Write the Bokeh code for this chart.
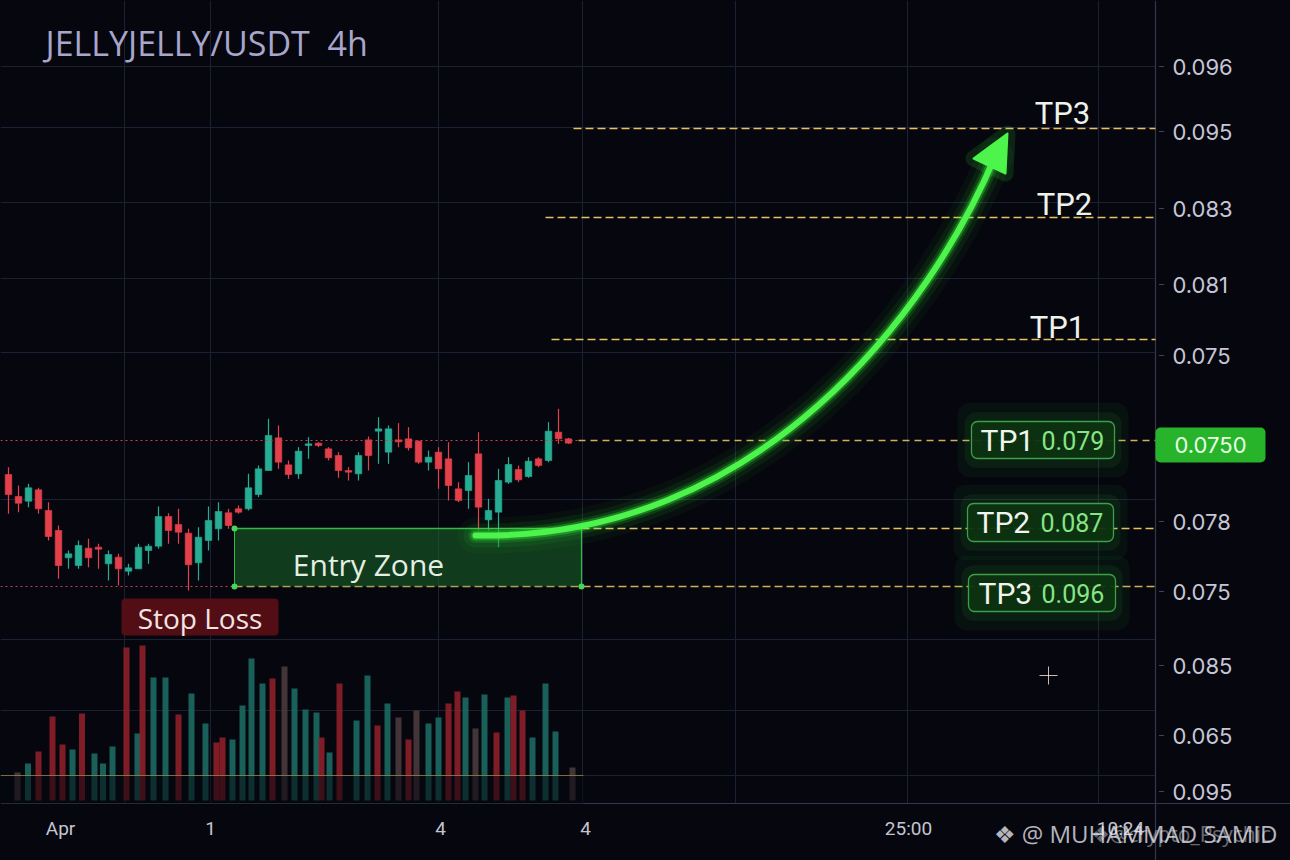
from bokeh.plotting import figure
from bokeh.models import Range1d, ColumnDataSource
from bokeh.core.properties import value
from bokeh.embed import file_html
from bokeh.resources import INLINE

# ---------------- data ----------------
title_text = "JELLYJELLY/USDT \u00a04h"

open_ = [0.07408, 0.07342, 0.07328, 0.07362, 0.07300, 0.07240, 0.07158, 0.07135, 0.07187, 0.07190,
         0.07140, 0.07160, 0.07118, 0.07125, 0.07180, 0.07193, 0.07282, 0.07258, 0.07232, 0.07143,
         0.07210, 0.07245, 0.07293, 0.07305, 0.07305, 0.07348, 0.07420, 0.07518, 0.07437, 0.07410,
         0.07495, 0.07502, 0.07485, 0.07465, 0.07420, 0.07410, 0.07512, 0.07538, 0.07475, 0.07512,
         0.07515, 0.07508, 0.07445, 0.07475, 0.07455, 0.07365, 0.07360, 0.07470, 0.07272, 0.07295,
         0.07385, 0.07423, 0.07402, 0.07455, 0.07450, 0.07535, 0.07515]
high = [0.07430, 0.07375, 0.07380, 0.07368, 0.07325, 0.07255, 0.07180, 0.07210, 0.07215, 0.07200,
        0.07180, 0.07170, 0.07140, 0.07200, 0.07200, 0.07312, 0.07292, 0.07305, 0.07245, 0.07250,
        0.07312, 0.07325, 0.07305, 0.07315, 0.07410, 0.07435, 0.07575, 0.07555, 0.07450, 0.07490,
        0.07520, 0.07505, 0.07490, 0.07475, 0.07430, 0.07475, 0.07522, 0.07580, 0.07555, 0.07562,
        0.07550, 0.07510, 0.07480, 0.07490, 0.07505, 0.07385, 0.07445, 0.07535, 0.07335, 0.07425,
        0.07460, 0.07435, 0.07460, 0.07460, 0.07565, 0.07605, 0.07518]
low = [0.07290, 0.07295, 0.07310, 0.07290, 0.07210, 0.07095, 0.07125, 0.07125, 0.07130, 0.07125,
       0.07090, 0.07075, 0.07105, 0.07125, 0.07140, 0.07185, 0.07200, 0.07200, 0.07060, 0.07090,
       0.07180, 0.07210, 0.07245, 0.07290, 0.07300, 0.07340, 0.07420, 0.07425, 0.07395, 0.07395,
       0.07455, 0.07490, 0.07450, 0.07398, 0.07390, 0.07390, 0.07420, 0.07440, 0.07440, 0.07490,
       0.07480, 0.07440, 0.07420, 0.07365, 0.07330, 0.07325, 0.07305, 0.07240, 0.07240, 0.07190,
       0.07380, 0.07385, 0.07398, 0.07430, 0.07445, 0.07500, 0.07500]
close = [0.07348, 0.07322, 0.07368, 0.07305, 0.07222, 0.07135, 0.07170, 0.07195, 0.07158, 0.07184,
         0.07168, 0.07125, 0.07128, 0.07190, 0.07193, 0.07282, 0.07240, 0.07235, 0.07137, 0.07220,
         0.07270, 0.07297, 0.07255, 0.07295, 0.07368, 0.07425, 0.07525, 0.07445, 0.07408, 0.07478,
         0.07500, 0.07495, 0.07458, 0.07420, 0.07415, 0.07465, 0.07465, 0.07545, 0.07545, 0.07506,
         0.07488, 0.07445, 0.07460, 0.07425, 0.07375, 0.07330, 0.07405, 0.07310, 0.07300, 0.07390,
         0.07438, 0.07392, 0.07448, 0.07435, 0.07538, 0.07515, 0.07502]

vol_pos = [0.9, 1.95, 3.0, 4.4, 5.4, 6.4, 7.35, 8.6, 9.45, 10.4,
           11.8, 12.9, 13.4, 14.5, 15.7, 17.0, 18.3, 19.7, 20.8, 21.4,
           22.4, 23.4, 24.3, 25.4, 26.4, 27.6, 28.6, 29.7, 30.8, 31.3,
           32.1, 33.1, 34.8, 35.9, 36.9, 37.9, 39.0, 40.0, 40.8, 42.0,
           43.0, 44.0, 44.9, 45.7, 46.7, 47.6, 48.8, 49.9, 50.5, 51.4,
           52.4, 53.7, 54.7, 56.4]
volume = [2.8, 3.7, 4.9, 8.4, 5.6, 5.1, 8.7, 4.7, 3.7, 5.4,
          15.3, 6.7, 15.5, 12.3, 12.3, 8.6, 10.7, 7.7, 5.8, 6.3,
          6.1, 9.5, 14.2, 11.7, 12.2, 13.4, 11.2, 9.1, 8.8, 6.3,
          4.8, 11.7, 8.0, 12.5, 7.5, 9.7, 8.3, 6.1, 9.0, 7.7,
          8.3, 9.7, 10.9, 10.3, 7.2, 10.6, 6.8, 10.3, 10.5, 9.0,
          6.3, 11.7, 6.9, 3.3]
vol_side = ["n", "g", "r", "r", "r", "g", "r", "g", "g", "g",
            "r", "g", "r", "g", "g", "r", "g", "g", "r", "r",
            "g", "g", "g", "g", "r", "n", "g", "g", "g", "r",
            "g", "r", "g", "g", "r", "g", "n", "r", "n", "g",
            "g", "r", "r", "g", "n", "g", "r", "g", "r", "r",
            "g", "g", "g", "n"]

y_tick_vals = [0.08632, 0.08437, 0.08206, 0.07978, 0.07765, 0.07267, 0.07057, 0.06835, 0.06625, 0.06457]
y_tick_labels = ["0.096", "0.095", "0.083", "0.081", "0.075", "0.078", "0.075", "0.085", "0.065", "0.095"]
x_tick_vals = [5.2, 20.2, 43.2, 57.7, 90.0, 111.2]
x_tick_labels = ["Apr", "1", "4", "4", "25:00", "10:24"]

grid_x = [11.6, 20.2, 43.0, 57.4, 72.7, 89.9, 109.0]
grid_y = [0.08632, 0.08449, 0.08224, 0.07996, 0.07774, 0.07333, 0.06913, 0.06700, 0.06505]

current_price = 0.0751
current_label = "0.0750"
tp_names = ["TP1", "TP2", "TP3"]
tp_values = ["0.079", "0.087", "0.096"]
tp_upper_levels = [0.07813, 0.08179, 0.08446]      # TP1, TP2, TP3 guide lines
entry_top = 0.07246
stop_loss = 0.07072

# ---------------- layout constants ----------------
X0, X1 = -0.8, 128.2            # full canvas in x
Y0, Y1 = 0.0625, 0.0883         # full canvas in price
X_AXIS = 114.7                  # right price-scale border
Y_AXIS = 0.06421                # time-scale border
Y_LABEL = 0.06346               # row of time labels

BG = "#06070e"
GREEN = "#26ad93"
RED = "#e2404a"
VCOL = {"g": "#1b6a62", "r": "#8e1f29", "n": "#4a3a3d"}
GOLD = "#e6c062"
NEON = "#4cf44c"
AXIS_C = "#33374b"

p = figure(width=1290, height=860, output_backend="svg", toolbar_location=None,
           x_range=Range1d(X0, X1), y_range=Range1d(Y0, Y1),
           x_axis_location=None, y_axis_location=None, min_border=0,
           background_fill_color=BG, border_fill_color=BG, outline_line_color=None)
p.extra_y_ranges = {"vol": Range1d(-6.0, 80.0)}
p.grid.visible = False

# grid lines (chart pane only)
p.segment(x0=grid_x, y0=[Y_AXIS] * len(grid_x), x1=grid_x, y1=[Y1] * len(grid_x),
          line_color="#1c2033", line_width=1)
p.segment(x0=[X0] * len(grid_y), y0=grid_y, x1=[X_AXIS] * len(grid_y), y1=grid_y,
          line_color="#1c2033", line_width=1)

# price scale and time scale
p.segment(x0=[X0, X_AXIS], y0=[Y_AXIS, Y0], x1=[X1, X_AXIS], y1=[Y_AXIS, Y1],
          line_color=AXIS_C, line_width=1.2)
p.segment(x0=[X_AXIS + 0.35] * len(y_tick_vals), y0=y_tick_vals,
          x1=[X_AXIS + 0.85] * len(y_tick_vals), y1=y_tick_vals,
          line_color="#41455a", line_width=1)
p.text(x=[X_AXIS + 1.7] * len(y_tick_vals), y=y_tick_vals, text=y_tick_labels,
       text_align="left", text_baseline="middle", text_font=value("Inter"),
       text_font_size="22px", text_color="#c6c6d6")
p.text(x=x_tick_vals, y=[Y_LABEL] * len(x_tick_vals), text=x_tick_labels,
       text_align="center", text_baseline="middle", text_font=value("Roboto"),
       text_font_size="19px", text_color="#c4c4cf")

# volume
p.vbar(x=vol_pos, width=0.6, bottom=0, top=volume, y_range_name="vol",
       fill_color=[VCOL[s] for s in vol_side], line_color=None, fill_alpha=0.9)
p.quad(left=X0, right=57.5, bottom=-0.3, top=2.5, y_range_name="vol",
       fill_color=BG, fill_alpha=0.55, line_color=None)
p.segment(x0=X0, y0=2.5, x1=57.5, y1=2.5, y_range_name="vol",
          line_color="#b9a45a", line_alpha=0.6, line_width=1)

# candles
idx = list(range(len(open_)))
up = [c >= o for o, c in zip(open_, close)]
csrc = ColumnDataSource(dict(
    x=idx, h=high, l=low,
    top=[max(o, c) for o, c in zip(open_, close)],
    bottom=[min(o, c) for o, c in zip(open_, close)],
    color=[GREEN if u else RED for u in up]))
p.segment(x0="x", y0="h", x1="x", y1="l", line_color="color", line_width=1.2, source=csrc)
p.vbar(x="x", width=0.66, top="top", bottom="bottom", fill_color="color",
       line_color="color", line_width=0.6, source=csrc)

# current price line
p.segment(x0=X0, y0=current_price, x1=57, y1=current_price, line_color="#c9414a",
          line_dash="2 3", line_width=1.2)
p.segment(x0=57, y0=current_price, x1=X_AXIS, y1=current_price, line_color=GOLD,
          line_dash="7 5", line_width=1.5, line_alpha=0.9)

# TP guide lines
p.segment(x0=[54.3, 53.7, 56.5], y0=tp_upper_levels, x1=[X_AXIS] * 3, y1=tp_upper_levels,
          line_color=GOLD, line_dash="8 4", line_width=1.5)
p.segment(x0=57.3, y0=entry_top, x1=X_AXIS, y1=entry_top, line_color=GOLD,
          line_dash="8 4", line_width=1.5)
p.segment(x0=X0, y0=stop_loss, x1=22.6, y1=stop_loss, line_color="#c9414a",
          line_dash="2 3", line_width=1.2)
p.segment(x0=22.6, y0=stop_loss, x1=X_AXIS, y1=stop_loss, line_color=GOLD,
          line_dash="8 4", line_width=1.5, line_alpha=0.9)

# entry zone
p.quad(left=22.6, right=57.3, bottom=stop_loss, top=entry_top,
       fill_color="#1d7d2e", fill_alpha=0.45, line_color=None)
p.segment(x0=[22.6, 22.6, 57.3], y0=[entry_top, entry_top, entry_top],
          x1=[57.3, 22.6, 57.3], y1=[entry_top, stop_loss, stop_loss],
          line_color="#3cc84c", line_width=[1.6, 1, 1.2], line_alpha=0.9)
p.scatter(x=[22.6, 22.6, 57.3], y=[entry_top, stop_loss, stop_loss], size=6,
          fill_color="#45d656", line_color=None)
p.text(x=[36.0], y=[0.07138], text=["Entry Zone"], text_align="center",
       text_baseline="middle", text_font=value("Open Sans"), text_font_size="30px",
       text_color="#e3efe3")

# stop loss tag
p.quad(left=11.3, right=27.0, bottom=0.06925, top=0.07036, fill_color="#560f15",
       fill_alpha=0.95, line_color=None, border_radius=4)
p.text(x=[19.15], y=[0.06979], text=["Stop Loss"], text_align="center",
       text_baseline="middle", text_font=value("Open Sans"), text_font_size="28px",
       text_color="#f3e4e4")

# arrow (glow layers + core)
arrow = dict(x0=46.7, y0=0.07225, x1=98.7, y1=0.08365, cx0=75.2, cy0=0.0721, cx1=92.2, cy1=0.0790)
for w, a in [(36, 0.04), (24, 0.07), (15, 0.14), (10, 0.3)]:
    p.bezier(**arrow, line_color="#38ff38", line_width=w, line_alpha=a, line_cap="round")
p.bezier(**arrow, line_color=NEON, line_width=6, line_cap="round")
head_x = [99.9, 96.5, 99.7]
head_y = [0.08431, 0.08356, 0.08311]
p.patch(x=head_x, y=head_y, fill_color=NEON, line_color="#38ff38", line_width=16,
        line_alpha=0.12, fill_alpha=0.0, line_join="round")
p.patch(x=head_x, y=head_y, fill_color=NEON, line_color=NEON, line_width=2, line_join="round")

# TP tags on guide lines
tp_box_left = [96.3, 95.9, 96.0]
tp_box_right = [110.6, 110.5, 110.7]
tp_box_bottom = [0.07456, 0.07207, 0.06997]
tp_box_top = [0.07567, 0.07321, 0.07108]
tp_mid = [0.0751, 0.07264, 0.07051]
for pad, a in [(1.4, 0.05), (0.7, 0.08)]:
    p.quad(left=[v - pad for v in tp_box_left], right=[v + pad for v in tp_box_right],
           bottom=[v - pad * 0.0004 for v in tp_box_bottom],
           top=[v + pad * 0.0004 for v in tp_box_top],
           fill_color="#2bd33a", fill_alpha=a, line_color=None, border_radius=12)
p.quad(left=tp_box_left, right=tp_box_right, bottom=tp_box_bottom, top=tp_box_top,
       fill_color="#0c3310", fill_alpha=0.95, line_color="#3e9f48", line_width=1.3,
       border_radius=6)
p.text(x=[97.2, 96.8, 97.0], y=tp_mid, text=tp_names, text_align="left",
       text_baseline="middle", text_font=value("Roboto"), text_font_size="30px",
       text_color="#f2f5ee")
p.text(x=[103.3, 103.2, 103.3], y=tp_mid, text=tp_values, text_align="left",
       text_baseline="middle", text_font=value("Roboto"), text_font_size="25px",
       text_color="#88e585")

# TP names above the upper guide lines
p.text(x=[104.9, 105.6, 105.4], y=[0.07849, 0.08218, 0.08491], text=tp_names,
       text_align="center", text_baseline="middle", text_font=value("Roboto"),
       text_font_size="31px", text_color="#eef2ea")

# current price tag on the price scale
p.quad(left=X_AXIS, right=125.7, bottom=0.07444, top=0.07549, fill_color="#27b42b",
       line_color=None, border_radius=5)
p.text(x=[120.2], y=[0.07498], text=[current_label], text_align="center",
       text_baseline="middle", text_font=value("Inter"), text_font_size="22px",
       text_color="#e8ffe8")

# sparkle
p.scatter(x=[104.0], y=[0.06805], marker="cross", size=18, line_color="#ffe6dc",
          line_width=1, line_alpha=0.8)

# title
p.text(x=[3.7], y=[0.08704], text=[title_text], text_align="left", text_baseline="middle",
       text_font=value("Open Sans"), text_font_size="34px", text_color="#a8a6cb")

# watermark
p.text(x=[98.5], y=[0.06331], text=["❖ @ MUHAMMAD SAMID"], text_align="left",
       text_baseline="middle", text_font=value("Open Sans"), text_font_size="24px",
       text_color="#e6e6ee", text_alpha=0.78)
p.text(x=[108.2], y=[0.06331], text=["❖@crypto_Psychic"], text_align="left",
       text_baseline="middle", text_font=value("Open Sans"), text_font_size="21px",
       text_color="#e6e6ee", text_alpha=0.45)

html = file_html(p, INLINE, title="JELLYJELLY/USDT 4h")
html = html.replace("<head>", "<head><style>html,body{background:#06070e;}</style>", 1)
open("out.html", "w").write(html)
